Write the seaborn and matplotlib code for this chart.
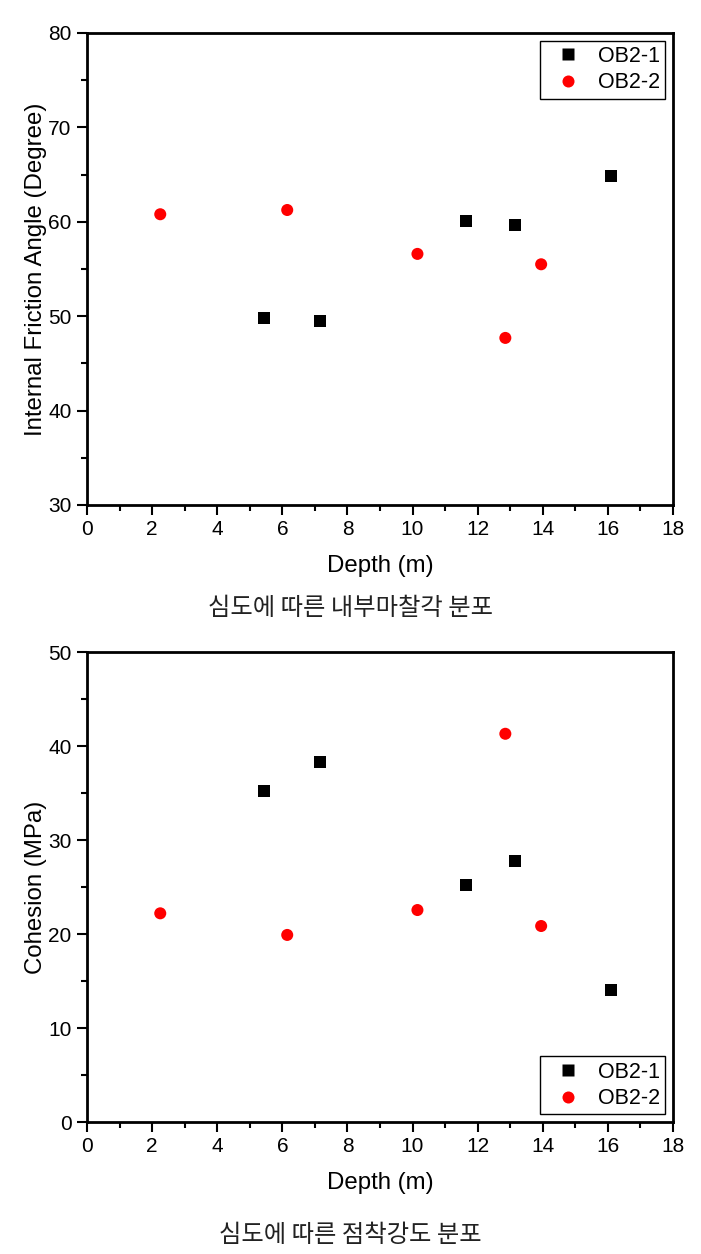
import matplotlib
matplotlib.use("Agg")
import matplotlib.pyplot as plt
import seaborn as sns
import pandas as pd
from matplotlib.ticker import MultipleLocator

sns.set_theme(style="white")
plt.rcParams['font.family'] = ['Liberation Sans', 'Noto Sans CJK KR', 'DejaVu Sans']
plt.rcParams['text.color'] = 'black'

series = ["OB2-1", "OB2-2"]
depth_ob21 = [5.45, 7.15, 11.65, 13.15, 16.1]
depth_ob22 = [2.25, 6.15, 10.15, 12.85, 13.95]
friction_ob21 = [49.8, 49.5, 60.1, 59.7, 64.9]
friction_ob22 = [60.8, 61.25, 56.6, 47.7, 55.5]
cohesion_ob21 = [35.2, 38.3, 25.2, 27.8, 14.0]
cohesion_ob22 = [22.2, 19.9, 22.55, 41.3, 20.85]
xticks = [0, 2, 4, 6, 8, 10, 12, 14, 16, 18]
caption_top = "심도에 따른 내부마찰각 분포"
caption_bottom = "심도에 따른 점착강도 분포"

df_f = pd.DataFrame({
    "Depth": depth_ob21 + depth_ob22,
    "Value": friction_ob21 + friction_ob22,
    "Series": [series[0]] * len(depth_ob21) + [series[1]] * len(depth_ob22),
})
df_c = pd.DataFrame({
    "Depth": depth_ob21 + depth_ob22,
    "Value": cohesion_ob21 + cohesion_ob22,
    "Series": [series[0]] * len(depth_ob21) + [series[1]] * len(depth_ob22),
})

palette = {"OB2-1": "#000000", "OB2-2": "#ff0000"}
markers = {"OB2-1": "s", "OB2-2": "o"}

fig = plt.figure(figsize=(7.01, 12.54), dpi=100)
ax1 = fig.add_axes([87/701, (1254-505)/1254, 586/701, 472/1254])
ax2 = fig.add_axes([87/701, (1254-1122)/1254, 586/701, 470/1254])

def style_ax(ax, df, ylim, ymajor, yminor, ylabel, legend_loc):
    sns.scatterplot(data=df, x="Depth", y="Value", hue="Series",
                    style="Series", palette=palette, markers=markers,
                    s=75, edgecolor="none", ax=ax)
    ax.set_xlim(0, 18)
    ax.set_ylim(*ylim)
    ax.set_xticks(xticks)
    ax.xaxis.set_minor_locator(MultipleLocator(1))
    ax.yaxis.set_major_locator(MultipleLocator(ymajor))
    ax.yaxis.set_minor_locator(MultipleLocator(yminor))
    ax.tick_params(axis="both", which="major", direction="out", length=7, width=1.5,
                   labelsize=15, color="black", labelcolor="black", pad=4,
                   bottom=True, left=True, top=False, right=False)
    ax.tick_params(axis="both", which="minor", direction="out", length=4, width=1.5,
                   color="black", bottom=True, left=True, top=False, right=False)
    for sp in ax.spines.values():
        sp.set_linewidth(2)
        sp.set_color("black")
        sp.set_visible(True)
    ax.set_xlabel("Depth (m)", fontsize=17.3, color="black", labelpad=11)
    ax.set_ylabel(ylabel, fontsize=17.3, color="black", labelpad=1)
    leg = ax.legend(loc=legend_loc, frameon=True, fancybox=False, fontsize=15.5,
                    handletextpad=0.35, borderpad=0.25, labelspacing=0.25,
                    markerscale=1.0, borderaxespad=0.35, handlelength=2.1)
    leg.get_frame().set_edgecolor("black")
    leg.get_frame().set_linewidth(1)
    leg.get_frame().set_alpha(1)
    for t in leg.get_texts():
        t.set_color("black")

style_ax(ax1, df_f, (30, 80), 10, 5, "Internal Friction Angle (Degree)", "upper right")
style_ax(ax2, df_c, (0, 50), 10, 5, "Cohesion (MPa)", "lower right")

fig.text(0.5, 1 - 608/1254, caption_top, ha="center", va="center", fontsize=17.5,
         family=['Noto Sans CJK KR'], color="#222222")
fig.text(0.5, 1 - 1235/1254, caption_bottom, ha="center", va="center", fontsize=17.5,
         family=['Noto Sans CJK KR'], color="#222222")

fig.savefig("out.png", dpi=100)
